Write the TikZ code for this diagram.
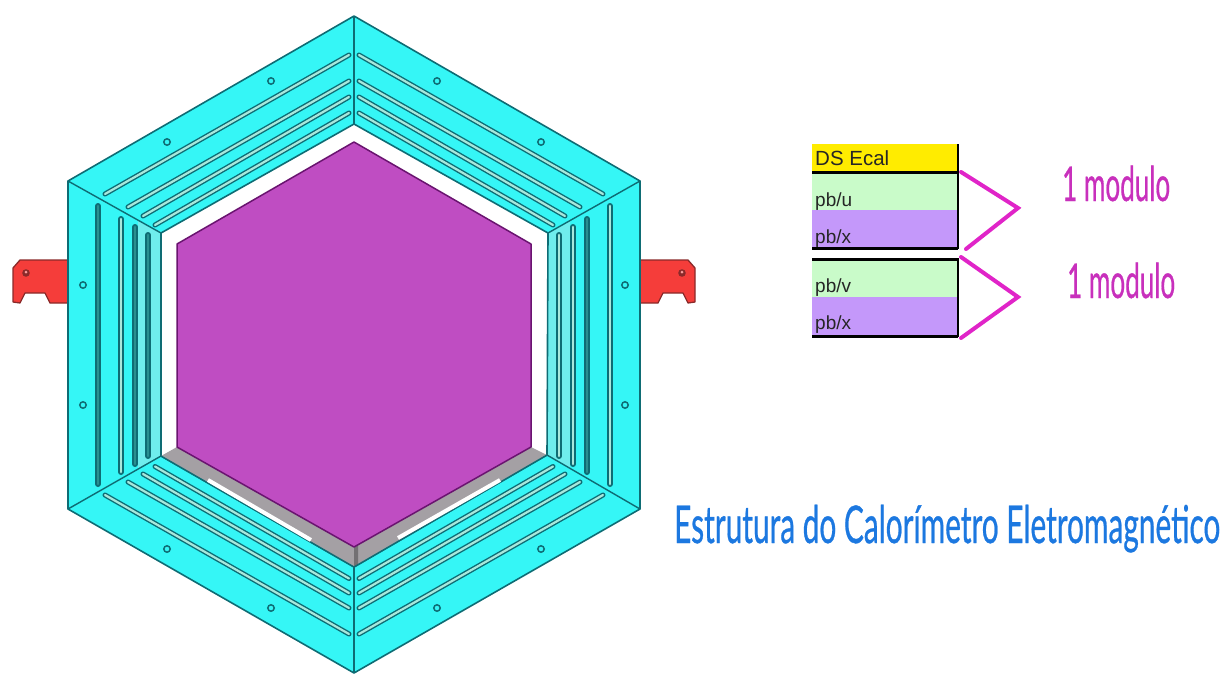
\documentclass[tikz,border=0pt]{standalone}
\usepackage{fontspec}
\usepackage{graphicx}
\setmainfont{Liberation Sans}
\newfontfamily\thinfont[FakeBold=0.8]{Lato}
\definecolor{panel}{HTML}{35F6F6}
\definecolor{panelpale}{HTML}{6FEDED}
\definecolor{edge}{HTML}{0E6C74}
\definecolor{slotlight}{HTML}{A8E8DC}
\definecolor{slotdark}{HTML}{2A8F90}
\definecolor{plum}{HTML}{BF4DC2}
\definecolor{plumedge}{HTML}{6A1470}
\definecolor{band}{HTML}{A4A0A4}
\definecolor{redpart}{HTML}{F53D3A}
\definecolor{rededge}{HTML}{8A2A2A}
\definecolor{tyellow}{HTML}{FFEC00}
\definecolor{tgreen}{HTML}{C9FBC9}
\definecolor{tviolet}{HTML}{C498FA}
\definecolor{chev}{HTML}{E024C8}
\definecolor{modtext}{HTML}{C830BC}
\definecolor{titleblue}{HTML}{1C78E0}
\tikzset{
  panelface/.style={fill=panel,draw=edge,line width=1.6pt,line join=round},
  seam/.style={draw=edge,line width=1.4pt},
  holemark/.style={draw=edge,line width=1.5pt,fill=panel},
  bracket/.style={fill=redpart,draw=rededge,line width=1.3pt,line join=round},
  tablerule/.style={draw=black,line width=3pt},
  chevron/.style={draw=chev,line width=4pt,line join=miter,line cap=round},
  celltext/.style={anchor=base west,inner sep=0pt,font=\fontsize{19}{19}\selectfont,text=black!85},
  bigtext/.style={anchor=base west,inner sep=0pt}
}
\newcommand{\slotpair}[5]{%
  \draw[edge,line width=6pt,line cap=round] (#1,#2) -- (#3,#4);
  \draw[#5,line width=2.6pt,line cap=round] (#1,#2) -- (#3,#4);}
\newcommand{\diagslot}[4]{%
  \draw[edge,line width=5pt,line cap=round] (#1,#2) -- (#3,#4);
  \draw[slotlight,line width=2.2pt,line cap=round] (#1,#2) -- (#3,#4);}
\begin{document}
\begin{tikzpicture}[x=1pt,y=-1pt]
\useasboundingbox (0,0) rectangle (1227,673);
% brackets
\draw[bracket] (68,260) -- (20,260) -- (13,268) -- (13,302) -- (20,303) -- (25,293) -- (45,293) -- (50,303) -- (68,303) -- cycle;
\draw[bracket] (640,260) -- (688,260) -- (695,268) -- (695,302) -- (688,303) -- (683,293) -- (663,293) -- (658,303) -- (640,303) -- cycle;
\fill[rededge] (26,273) circle (3.8);
\fill[rededge] (682,273) circle (3.8);
\fill[redpart!50!white] (26,272) circle (1.5);
\fill[redpart!50!white] (682,272) circle (1.5);
% frame
\draw[panelface] (354,16) -- (640,181) -- (640,509) -- (354,673) -- (68,509) -- (68,181) -- cycle;
% pale inner strips
\fill[panelpale] (138,220) -- (161,233) -- (161,456) -- (138,469) -- cycle;
\fill[panelpale] (570,220) -- (548,233) -- (548,455) -- (570,468) -- cycle;
% opening
\draw[fill=white,draw=edge,line width=1.6pt,line join=round] (354,124) -- (548,233) -- (547,455) -- (354,567) -- (161,456) -- (161,233) -- cycle;
% grey band
\fill[band] (161,456) -- (177,447) -- (354,547) -- (531,447) -- (547,455) -- (354,567) -- cycle;
\fill[band!70!black] (354,547) -- (358,545) -- (358,565) -- (354,567) -- cycle;
\draw[seam] (161,456) -- (354,567) -- (547,455);
\draw[white,line width=4pt] (208,480) -- (311,540);
\draw[white,line width=4pt] (398,538) -- (500,480);
% purple hexagon
\draw[fill=plum,draw=plumedge,line width=1.5pt,line join=round] (354,142) -- (531,244) -- (531,447) -- (354,547) -- (177,447) -- (177,244) -- cycle;
% seams
\draw[seam] (354,16) -- (354,124);
\draw[seam] (354,567) -- (354,673);
\draw[seam] (68,181) -- (161,233);
\draw[seam] (640,181) -- (548,233);
\draw[seam] (68,509) -- (161,456);
\draw[seam] (640,509) -- (547,455);
% diagonal slots
\foreach \xa/\ya/\xb/\yb/\dy in {105/194/349/55/0,128/207/349/81/0,143/216/349/97/1,155/225/349/113/2.5}{
  \pgfmathsetmacro{\mxa}{708-\xa}\pgfmathsetmacro{\mxb}{708-\xb}
  \pgfmathsetmacro{\mya}{689-\ya+\dy}\pgfmathsetmacro{\myb}{689-\yb+\dy}
  \diagslot{\xa}{\ya}{\xb}{\yb}
  \diagslot{\mxa}{\ya}{\mxb}{\yb}
  \diagslot{\xa}{\mya}{\xb}{\myb}
  \diagslot{\mxa}{\mya}{\mxb}{\myb}
}
% vertical slots
\slotpair{98}{206}{98}{484}{slotdark}
\slotpair{121}{219}{121}{472}{slotlight}
\slotpair{135}{227}{135}{464}{slotdark}
\slotpair{148}{235}{148}{456}{slotdark}
\slotpair{610}{206}{610}{484}{slotlight}
\slotpair{587}{219}{587}{472}{slotdark}
\slotpair{573}{227}{573}{464}{slotlight}
\slotpair{559}{235}{559}{456}{slotlight}
% holes
\foreach \hx/\hy in {167/142,271/81,83/285,83/405,167/549,271/608,541/142,437/81,625/285,625/405,541/549,437/608}{
  \draw[holemark] (\hx,\hy) circle (3.2);
}
% table
\fill[tyellow] (812,144) rectangle (958,172);
\fill[tgreen] (812,172) rectangle (958,210);
\fill[tviolet] (812,210) rectangle (958,248);
\fill[tgreen] (812,259) rectangle (958,297);
\fill[tviolet] (812,297) rectangle (958,336);
\draw[tablerule] (812,172) -- (958,172);
\draw[tablerule] (812,248) -- (958,248);
\draw[tablerule] (812,259) -- (958,259);
\draw[tablerule] (812,336) -- (958,336);
\draw[draw=black,line width=2.4pt] (958,144) -- (958,249);
\draw[draw=black,line width=2.4pt] (958,258) -- (958,337);
\node[celltext,font=\fontsize{20.5}{20.5}\selectfont] (ds) at (815,165) {DS Ecal};
\node[celltext] (u) at (815,206) {pb/u};
\node[celltext] (x1) at (815,243) {pb/x};
\node[celltext] (v) at (815,292) {pb/v};
\node[celltext] (x2) at (815,329) {pb/x};
% chevrons
\draw[chevron] (961,172) -- (1018,208) -- (966,249);
\draw[chevron] (961,257) -- (1018,297) -- (961,338);
% labels
\node[bigtext,text=modtext] (m1) at (1062,201) {\resizebox{108pt}{\height}{\thinfont\fontsize{48}{48}\selectfont 1 modulo}};
\node[bigtext,text=modtext] (m2) at (1067,298) {\resizebox{108pt}{\height}{\thinfont\fontsize{48}{48}\selectfont 1 modulo}};
\node[bigtext,text=titleblue] (title) at (674,543) {\resizebox{546pt}{\height}{\thinfont\fontsize{52}{52}\selectfont Estrutura do Calorímetro Eletromagnético}};
\end{tikzpicture}
\end{document}
